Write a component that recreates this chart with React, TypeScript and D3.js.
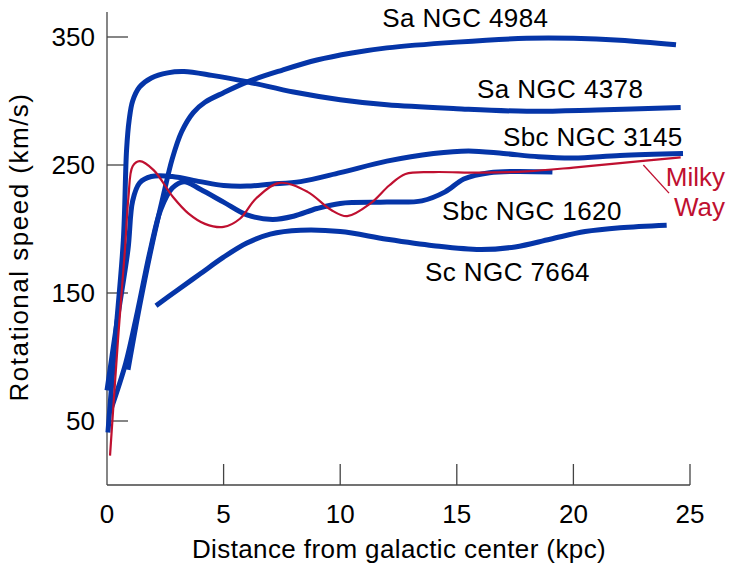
import React from "react";
import * as d3 from "d3";

type Pt = [number, number];

const xTicks = [0, 5, 10, 15, 20, 25];
const yTicks = [50, 150, 250, 350];

const ngc4984: Pt[] = [[0.9, 90], [1.4, 140], [1.9, 185], [2.4, 225], [2.8, 255], [3.2, 276], [3.7, 291], [4.2, 299], [5.0, 306.5], [6.1, 315.5], [7.5, 324], [9, 332], [10.5, 337.5], [12, 341.5], [15, 346], [18, 349], [20, 349], [22, 347.5], [24.4, 344]];
const ngc4378: Pt[] = [[0.04, 41], [0.35, 113], [0.7, 191], [0.84, 262], [0.95, 285], [1.1, 300], [1.4, 311], [1.9, 318], [2.6, 322], [3.3, 323], [4.5, 320], [6, 315], [8, 307], [10, 301], [12, 297], [15, 294], [18, 292], [21, 293], [24.6, 295]];
const ngc3145: Pt[] = [[0, 74], [0.45, 130], [0.9, 184], [1.1, 222], [1.4, 236], [1.9, 241], [2.8, 241], [4, 237], [5, 234], [6, 233.5], [7, 235], [8.3, 237], [10, 244], [12, 253], [14, 259], [15.5, 261], [17, 259], [18.5, 256.5], [20, 255.5], [22, 257.5], [24.7, 259]];
const ngc1620: Pt[] = [[0.15, 58], [0.8, 95], [1.3, 135], [1.85, 183], [2.3, 215], [2.8, 232], [3.3, 237], [4, 231], [5, 221], [6, 211], [7.1, 207.5], [8, 210], [9, 216], [10, 220], [12, 221], [13.5, 222], [14.5, 229], [15.3, 239], [16.4, 244], [19.1, 244.5]];
const ngc7664: Pt[] = [[2.1, 140], [3, 152], [4, 165], [5, 178], [6, 189], [7, 196], [8.3, 199], [10, 198], [12, 192], [14, 187], [16, 184], [17.5, 186], [19, 192], [20.5, 198], [22, 201], [24, 203]];
const milkyWay: Pt[] = [[0.13, 23], [0.47, 113], [0.77, 184], [0.92, 225], [1.1, 249], [1.4, 253], [2, 246], [2.83, 225], [3.5, 212], [4.2, 204], [5, 201.6], [5.7, 208], [6.4, 224], [7.4, 236], [8.6, 229], [9.6, 215], [10.3, 210], [11.3, 220], [12.1, 234], [12.8, 243], [14, 244.5], [16, 244], [18, 245], [20, 248], [22, 251.5], [24.6, 256]];

const blueSeries = [ngc4984, ngc4378, ngc3145, ngc1620, ngc7664];

// labels: text, x (kpc), y (km/s)
const labelTexts = ["Sa NGC 4984", "Sa NGC 4378", "Sbc NGC 3145", "Sbc NGC 1620", "Sc NGC 7664"];
const labelX = [11.8, 15.87, 16.98, 14.37, 13.64];
const labelY = [357.8, 302.3, 264.8, 207, 159.4];
const milkyLines = ["Milky", "Way"];
const milkyLabelX = 26.5;
const milkyLabelY = [233.5, 210];
const leader: Pt[] = [[23.0, 250], [24.1, 228]];

const BLUE = "#0535a8";
const RED = "#bf1030";
const FONT = "'Liberation Sans', Arial, Helvetica, sans-serif";

export default function App() {
  const x = d3.scaleLinear().domain([0, 25]).range([107, 690]);
  const y = d3.scaleLinear().domain([0, 350]).range([485, 37]);
  const line = d3
    .line<Pt>()
    .x((d) => x(d[0]))
    .y((d) => y(d[1]))
    .curve(d3.curveCatmullRom.alpha(0.5));

  return (
    <svg width={731} height={570} style={{ position: "absolute", left: 0, top: 0, background: "#fff" }} fontFamily={FONT}>
      {/* axes */}
      <line x1={x(0)} x2={x(0)} y1={12} y2={y(0)} stroke="#444" strokeWidth={1.3} />
      <line x1={x(0)} x2={x(25)} y1={y(0)} y2={y(0)} stroke="#444" strokeWidth={1.3} />
      {yTicks.map((t) => (
        <g key={"y" + t}>
          <line x1={x(0)} x2={x(0) + 21} y1={y(t)} y2={y(t)} stroke="#444" strokeWidth={1.3} />
          <text x={95} y={y(t)} dy="0.35em" textAnchor="end" fontSize={26} fill="#000">
            {t}
          </text>
        </g>
      ))}
      {xTicks.map((t) => (
        <g key={"x" + t}>
          {t > 0 && <line x1={x(t)} x2={x(t)} y1={y(0)} y2={y(0) - 21} stroke="#444" strokeWidth={1.3} />}
          <text x={x(t)} y={523} textAnchor="middle" fontSize={26} fill="#000">
            {t}
          </text>
        </g>
      ))}
      <text x={399} y={558} textAnchor="middle" fontSize={26} letterSpacing={0.4} fill="#000">
        Distance from galactic center (kpc)
      </text>
      <text transform={`translate(28,247) rotate(-90)`} textAnchor="middle" fontSize={26} letterSpacing={1.5} fill="#000">
        Rotational speed (km/s)
      </text>

      {/* curves */}
      {blueSeries.map((s, i) => (
        <path key={"b" + i} d={line(s) || ""} fill="none" stroke={BLUE} strokeWidth={5} strokeLinecap="butt" />
      ))}
      <path d={line(milkyWay) || ""} fill="none" stroke={RED} strokeWidth={2.2} />

      {/* labels */}
      {labelTexts.map((t, i) => (
        <text key={"l" + i} x={x(labelX[i])} y={y(labelY[i])} fontSize={26} letterSpacing={0.4} fill="#000">
          {t}
        </text>
      ))}
      {milkyLines.map((t, i) => (
        <text key={"m" + i} x={x(milkyLabelX)} y={y(milkyLabelY[i])} textAnchor="end" fontSize={26} fill={RED}>
          {t}
        </text>
      ))}
      <line x1={x(leader[0][0])} y1={y(leader[0][1])} x2={x(leader[1][0])} y2={y(leader[1][1])} stroke={RED} strokeWidth={1.3} />
    </svg>
  );
}
